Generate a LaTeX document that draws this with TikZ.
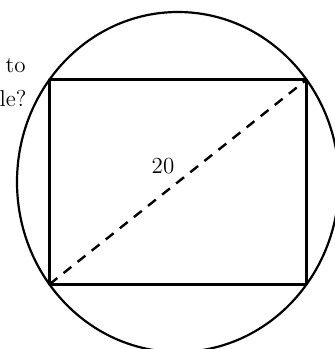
\documentclass[tikz,border=0pt]{standalone}
\begin{document}
\begin{tikzpicture}[x=0.5pt,y=-0.5pt,font=\fontsize{11.5}{14}\selectfont]
 \tikzset{rim/.style={line width=1.1pt},
          side/.style={line width=1.4pt,line join=round},
          diag/.style={line width=1.2pt,dash pattern=on 5pt off 4pt},
          txt/.style={inner sep=0pt,anchor=base east}}
 \useasboundingbox (0,0) rectangle (335,349);
 \coordinate (O) at (178,182);
 \draw[rim] (O) ellipse (161 and 170);
 \coordinate (TL) at ([shift={(O)}]217:161 and 170);
 \coordinate (TR) at ([shift={(O)}]323:161 and 170);
 \coordinate (BR) at ([shift={(O)}]37:161 and 170);
 \coordinate (BL) at ([shift={(O)}]143:161 and 170);
 \draw[side] (TL) -- (TR) -- (BR) -- (BL) -- cycle;
 \draw[diag] (BL) -- (TR);
 \node (len) at (163,166) {20};
 \node[txt] (q1) at (26,72) {to};
 \node[txt] (q2) at (27,106) {le?};
\end{tikzpicture}
\end{document}
